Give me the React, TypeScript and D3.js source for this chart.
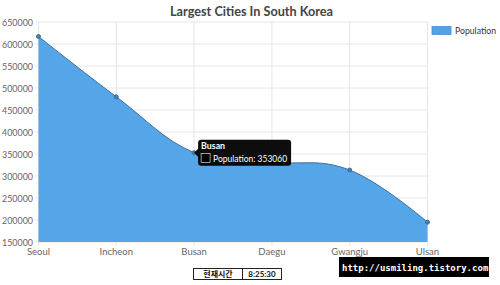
import React from "react";
import * as d3 from "d3";

const categories = ["Seoul", "Incheon", "Busan", "Daegu", "Gwangju", "Ulsan"];
const population = [617000, 480000, 353060, 332000, 313500, 195000];
const yTicks = [150000, 200000, 250000, 300000, 350000, 400000, 450000, 500000, 550000, 600000, 650000];
const seriesName = "Population";
const title = "Largest Cities In South Korea";
const tooltipIndex = 2;
const clockLabel = "현재시간";
const clockValue = "8:25:30";
const watermark = "http://usmiling.tistory.com";

const W = 500, H = 285;
const left = 38.5, right = 427.5, top = 22, bottom = 242;
const font = "Lato, 'Noto Sans', sans-serif";

export default function App() {
  const x = d3.scalePoint<string>().domain(categories).range([left, right]);
  const y = d3.scaleLinear().domain([150000, 650000]).range([bottom, top]);
  const pts: [number, number][] = population.map((v, i) => [x(categories[i])!, y(v)]);
  const curve = d3.curveCardinal.tension(-0.2);
  const area = d3.area<[number, number]>().x(d => d[0]).y0(bottom).y1(d => d[1]).curve(curve)(pts)!;
  const line = d3.line<[number, number]>().x(d => d[0]).y(d => d[1]).curve(curve)(pts)!;
  const tp = pts[tooltipIndex];
  const tx = tp[0] + 4, ty = tp[1] - 13;
  return (
    <svg width={W} height={H} style={{ position: "absolute", left: 0, top: 0, background: "#fff" }} fontFamily={font}>
      <text x={170} y={16} fontSize={13} fontWeight="bold" fill="#444" textLength={163} lengthAdjust="spacingAndGlyphs">{title}</text>
      {yTicks.map(t => (
        <g key={t}>
          <line x1={left - 4} x2={right} y1={y(t)} y2={y(t)} stroke="#e6e6e6" strokeWidth={1} />
          <text x={33} y={y(t) + 3.5} textAnchor="end" fontSize={9.5} fill="#666" textLength={31} lengthAdjust="spacingAndGlyphs">{t}</text>
        </g>
      ))}
      {categories.map(c => (
        <g key={c}>
          <line x1={x(c)} x2={x(c)} y1={top} y2={bottom + 4} stroke="#e6e6e6" strokeWidth={1} />
          <text x={x(c)} y={bottom + 13} textAnchor="middle" fontSize={9.5} fill="#666">{c}</text>
        </g>
      ))}
      <path d={area} fill="rgba(80,163,232,0.97)" />
      <path d={line} fill="none" stroke="#3d6f9a" strokeWidth={1} />
      {pts.map((p, i) => <circle key={i} cx={p[0]} cy={p[1]} r={2} fill="#4a7fae" stroke="#3d6f9a" />)}
      {/* legend */}
      <rect x={432} y={26.5} width={19} height={8} fill="#50a3e8" stroke="#4a90d0" strokeWidth={0.8} />
      <text x={455} y={34} fontSize={9.5} fill="#333" textLength={41} lengthAdjust="spacingAndGlyphs">{seriesName}</text>
      {/* tooltip */}
      <path d={`M${tx} ${ty + 3} a3 3 0 0 1 3 -3 H${tx + 90} a3 3 0 0 1 3 3 V${ty + 23} a3 3 0 0 1 -3 3 H${tx + 3} a3 3 0 0 1 -3 -3 V${ty + 17} L${tp[0]} ${tp[1]} L${tx} ${ty + 9} Z`} fill="#000" opacity={0.95} />
      <text x={tx + 3} y={ty + 9} fontSize={8.5} fontWeight="bold" fill="#fff" textLength={24} lengthAdjust="spacingAndGlyphs">{categories[tooltipIndex]}</text>
      <rect x={tx + 3} y={ty + 14} width={9} height={9} fill="#000" stroke="#fff" strokeWidth={0.6} />
      <text x={tx + 15} y={ty + 22} fontSize={9} fill="#fff" textLength={74} lengthAdjust="spacingAndGlyphs">{`${seriesName}: ${population[tooltipIndex]}`}</text>
      {/* clock box */}
      <rect x={193.5} y={268.5} width={88} height={11} fill="#fff" stroke="#222" strokeWidth={1} />
      <line x1={242.5} x2={242.5} y1={268.5} y2={279.5} stroke="#222" />
      <text x={218} y={277} textAnchor="middle" fontSize={8} fontWeight="bold" fill="#111" fontFamily="'Noto Sans CJK KR', sans-serif">{clockLabel}</text>
      <text x={262} y={277} textAnchor="middle" fontSize={8} fontWeight="bold" fill="#111">{clockValue}</text>
      {/* watermark */}
      <rect x={339} y={257} width={150} height={20} fill="#000" />
      <text x={342} y={271} fontSize={9} fontWeight="bold" fill="#fff" fontFamily="'DejaVu Sans Mono', monospace">{watermark}</text>
    </svg>
  );
}
